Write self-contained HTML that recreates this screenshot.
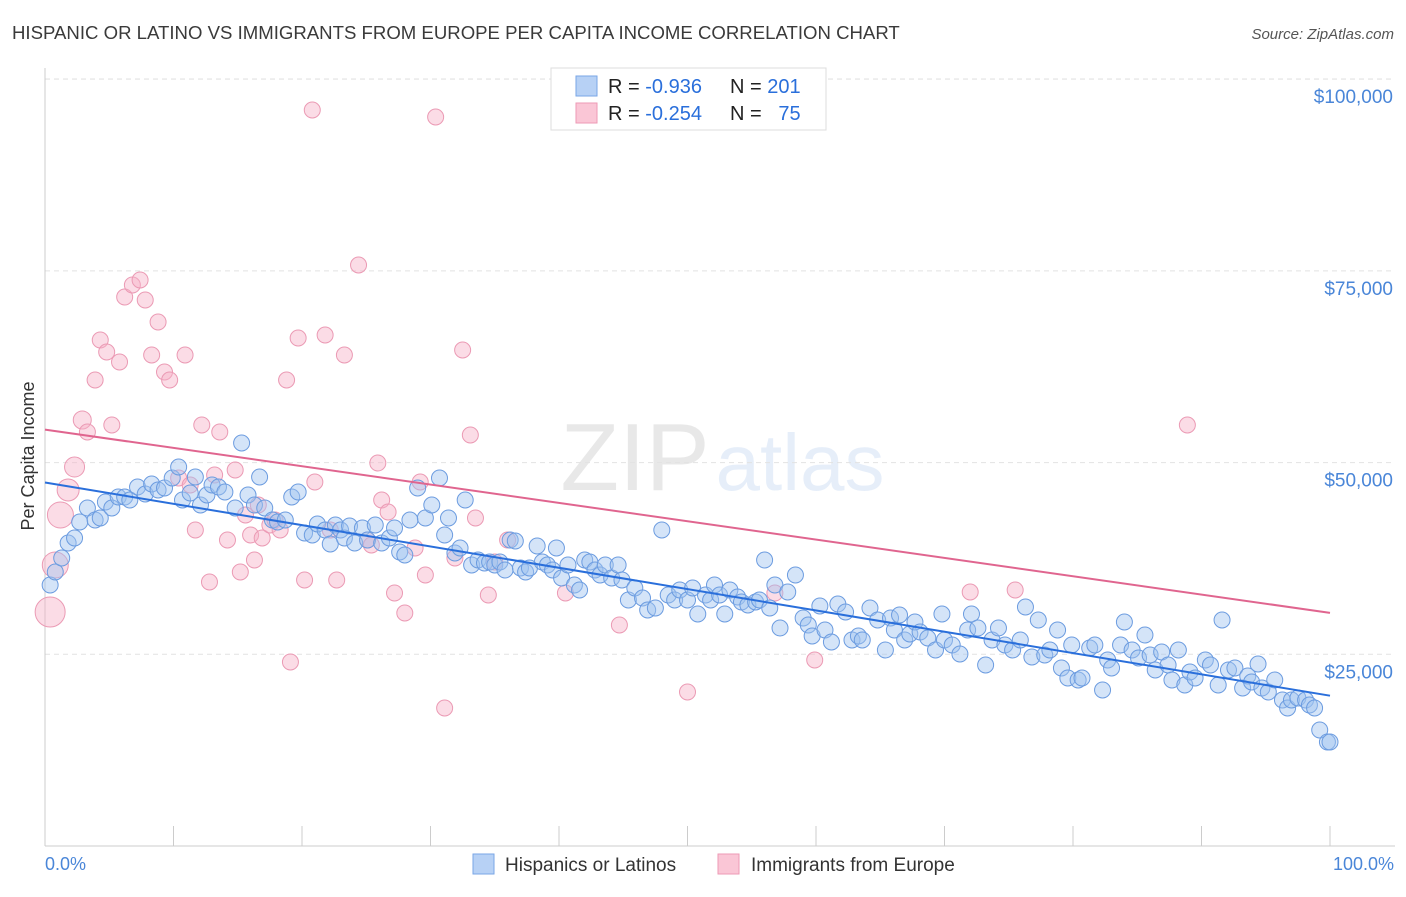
<!DOCTYPE html>
<html><head><meta charset="utf-8">
<style>
body{margin:0;background:#fff;font-family:"Liberation Sans",sans-serif;}
svg text{font-family:"Liberation Sans",sans-serif;}
</style></head>
<body>
<svg id="chart" width="1406" height="892" xmlns="http://www.w3.org/2000/svg">
<text x="12" y="39" font-size="18.6" fill="#3a3a3a">HISPANIC OR LATINO VS IMMIGRANTS FROM EUROPE PER CAPITA INCOME CORRELATION CHART</text>
<text x="1394" y="39" font-size="15" fill="#555" text-anchor="end" font-style="italic">Source: ZipAtlas.com</text>
<text transform="translate(34,456) rotate(-90)" font-size="18" fill="#333" text-anchor="middle">Per Capita Income</text>
<g opacity="0.13">
<text x="635" y="490" font-size="96" fill="#555" font-family="Liberation Serif" text-anchor="middle">ZIP</text>
<text x="800" y="490" font-size="80" fill="#4a86d8" text-anchor="middle">atlas</text>
</g>
<g id="grid"></g>
<g id="pts"></g>
<g id="lines"></g>
<g>
<rect x="551" y="68" width="275" height="62" fill="#fff" stroke="#ddd"/>
<rect x="576" y="76" width="21" height="20" fill="#b7d1f5" stroke="#7aa6e6"/>
<rect x="576" y="103" width="21" height="20" fill="#fac6d6" stroke="#ee9ab5"/>
<text x="608" y="93" font-size="20" fill="#222">R = <tspan fill="#2a6fdb">-0.936</tspan></text>
<text x="730" y="93" font-size="20" fill="#222">N = <tspan fill="#2a6fdb">201</tspan></text>
<text x="608" y="120" font-size="20" fill="#222">R = <tspan fill="#2a6fdb">-0.254</tspan></text>
<text x="730" y="120" font-size="20" fill="#222" xml:space="preserve">N =  <tspan fill="#2a6fdb"> 75</tspan></text>
</g>
<g>
<rect x="473" y="854" width="21" height="20" fill="#b7d1f5" stroke="#7aa6e6"/>
<text x="505" y="871" font-size="19" fill="#333">Hispanics or Latinos</text>
<rect x="718" y="854" width="21" height="20" fill="#fac6d6" stroke="#ee9ab5"/>
<text x="751" y="871" font-size="19" fill="#333">Immigrants from Europe</text>
</g>
<text x="45" y="870" font-size="18" fill="#4a86d8">0.0%</text>
<text x="1394" y="870" font-size="18" fill="#4a86d8" text-anchor="end">100.0%</text>
</svg>
<script>
const yTicks=[25000,50000,75000,100000];
const yTickLabels=["$25,000","$50,000","$75,000","$100,000"];
const xTicks=[0,10,20,30,40,50,60,70,80,90,100];
const bluePx=[[50,585],[55,572],[62,558],[68,543],[75,538],[80,522],[88,508],[95,520],[100,518],[105,502],[112,508],[118,497],[125,497],[130,500],[138,487],[145,494],[152,484],[158,490],[165,488],[172,478],[178,467],[183,500],[190,493],[195,477],[200,505],[207,495],[212,485],[218,487],[225,492],[235,508],[242,443],[248,495],[255,505],[260,477],[265,508],[272,520],[278,522],[285,520],[292,497],[298,492],[305,533],[312,535],[318,524],[325,530],[330,544],[335,525],[340,530],[345,538],[350,526],[355,543],[362,528],[368,540],[375,525],[382,543],[390,538],[395,528],[400,552],[405,555],[410,520],[418,488],[425,518],[432,505],[440,478],[445,535],[448,518],[455,553],[460,548],[465,500],[472,565],[478,560],[485,563],[490,562],[495,565],[500,562],[505,570],[510,540],[515,541],[520,568],[525,572],[530,568],[537,546],[542,562],[548,565],[553,570],[557,548],[562,578],[568,565],[575,585],[580,590],[585,560],[590,562],[595,570],[600,575],[605,565],[612,578],[618,565],[622,580],[628,600],[635,588],[642,598],[648,610],[655,608],[662,530],[668,595],[675,600],[680,590],[688,600],[692,588],[698,614],[705,595],[710,600],[715,585],[720,595],[725,614],[730,590],[738,597],[742,602],[748,605],[755,602],[760,600],[765,560],[770,608],[775,585],[780,628],[788,592],[795,575],[803,618],[808,625],[812,636],[820,606],[825,630],[832,642],[838,604],[845,612],[852,640],[858,636],[862,640],[870,608],[878,620],[885,650],[890,618],[895,630],[900,615],[905,640],[910,634],[915,622],[920,632],[928,638],[935,650],[942,614],[945,640],[952,645],[960,654],[968,630],[972,614],[978,628],[985,665],[992,640],[998,628],[1005,645],[1012,650],[1020,640],[1025,607],[1032,657],[1038,620],[1045,655],[1050,650],[1058,630],[1062,668],[1068,678],[1072,645],[1078,680],[1082,678],[1090,648],[1095,645],[1102,690],[1108,660],[1112,668],[1120,645],[1125,622],[1132,650],[1138,658],[1145,635],[1150,655],[1155,670],[1162,652],[1168,665],[1172,680],[1178,650],[1185,685],[1190,672],[1195,678],[1205,660],[1210,665],[1218,685],[1222,620],[1228,670],[1235,668],[1242,688],[1248,676],[1252,682],[1258,664],[1262,688],[1268,692],[1275,680],[1282,700],[1288,708],[1292,700],[1298,698],[1305,700],[1310,705],[1315,708],[1320,730],[1328,742],[1330,742]];
const pinkPx=[[50,612,15],[55,565,13],[60,515,13],[68,490,11],[75,467,10],[82,420,9],[88,432,8],[95,380,8],[100,340,8],[107,352,8],[112,425,8],[120,362,8],[125,297,8],[132,285,8],[140,280,8],[145,300,8],[152,355,8],[158,322,8],[165,372,8],[170,380,8],[178,478,8],[185,355,8],[190,485,8],[195,530,8],[202,425,8],[210,582,8],[215,475,8],[220,432,8],[228,540,8],[235,470,8],[240,572,8],[245,515,8],[250,535,8],[255,560,8],[258,505,8],[262,538,8],[270,525,8],[275,520,8],[280,530,8],[287,380,8],[290,662,8],[298,338,8],[305,580,8],[312,110,8],[315,482,8],[325,335,8],[330,530,8],[337,580,8],[345,355,8],[358,265,8],[368,540,8],[372,545,8],[378,463,8],[382,500,8],[388,512,8],[395,593,8],[405,613,8],[415,548,8],[420,482,8],[425,575,8],[436,117,8],[445,708,8],[455,558,8],[462,350,8],[470,435,8],[476,518,8],[488,595,8],[495,562,8],[508,540,8],[565,593,8],[620,625,8],[688,692,8],[775,593,8],[780,117,8],[815,660,8],[970,592,8],[1015,590,8],[1188,425,8]];
const blueX=bluePx.map(p=>+((p[0]-45)/12.85).toFixed(1));
const blueY=bluePx.map(p=>Math.round((846-p[1])*130.4));
const pinkX=pinkPx.map(p=>+((p[0]-45)/12.85).toFixed(1));
const pinkY=pinkPx.map(p=>Math.round((846-p[1])*130.4));
const pinkR=pinkPx.map(p=>p[2]);
const blueTrend=[47400,19600];
const pinkTrend=[54300,30400];

const NS="http://www.w3.org/2000/svg";
const xs=v=>45+v*12.85;
const ys=v=>846-v/130.4;
function mk(tag,attrs,parent){const e=document.createElementNS(NS,tag);for(const k in attrs)e.setAttribute(k,attrs[k]);parent.appendChild(e);return e;}
const grid=document.getElementById('grid');
const topGrid=mk('line',{x1:45,x2:1395,y1:79,y2:79,stroke:'#ddd','stroke-dasharray':'5,4'},grid);


yTicks.forEach((t,i)=>{
 const l=mk('line',{x1:45,x2:1395,y1:ys(t),y2:ys(t),stroke:'#e2e2e2','stroke-dasharray':'5,4'},grid);
 
 
 const tx=mk('text',{x:1393,y:ys(t)+24,'font-size':19,fill:'#4a86d8','text-anchor':'end'},grid);
 tx.textContent=yTickLabels[i];
 
 
});
const ax=mk('line',{x1:45,x2:1395,y1:846,y2:846,stroke:'#ccc'},grid);


const ay=mk('line',{x1:45,x2:45,y1:68,y2:846,stroke:'#ccc'},grid);


xTicks.forEach(t=>{
 const l=mk('line',{x1:xs(t),x2:xs(t),y1:826,y2:846,stroke:'#ccc'},grid);
 
 
});
const pts=document.getElementById('pts');
pinkX.forEach((x,i)=>{
 const c=mk('circle',{cx:xs(x),cy:ys(pinkY[i]),r:pinkR[i],fill:'rgba(246,178,200,0.45)',stroke:'#eb9ab4','stroke-width':1},pts);
 
 
});
blueX.forEach((x,i)=>{
 const c=mk('circle',{cx:xs(x),cy:ys(blueY[i]),r:8,fill:'rgba(160,195,240,0.45)',stroke:'#6c9ce0','stroke-width':1},pts);
 
 
});
const lines=document.getElementById('lines');
const bl=mk('line',{x1:xs(0),x2:xs(100),y1:ys(blueTrend[0]),y2:ys(blueTrend[1]),stroke:'#2a6fdb','stroke-width':2},lines);


const pl=mk('line',{x1:xs(0),x2:xs(100),y1:ys(pinkTrend[0]),y2:ys(pinkTrend[1]),stroke:'#e0658f','stroke-width':2},lines);


</script>
</body></html>
